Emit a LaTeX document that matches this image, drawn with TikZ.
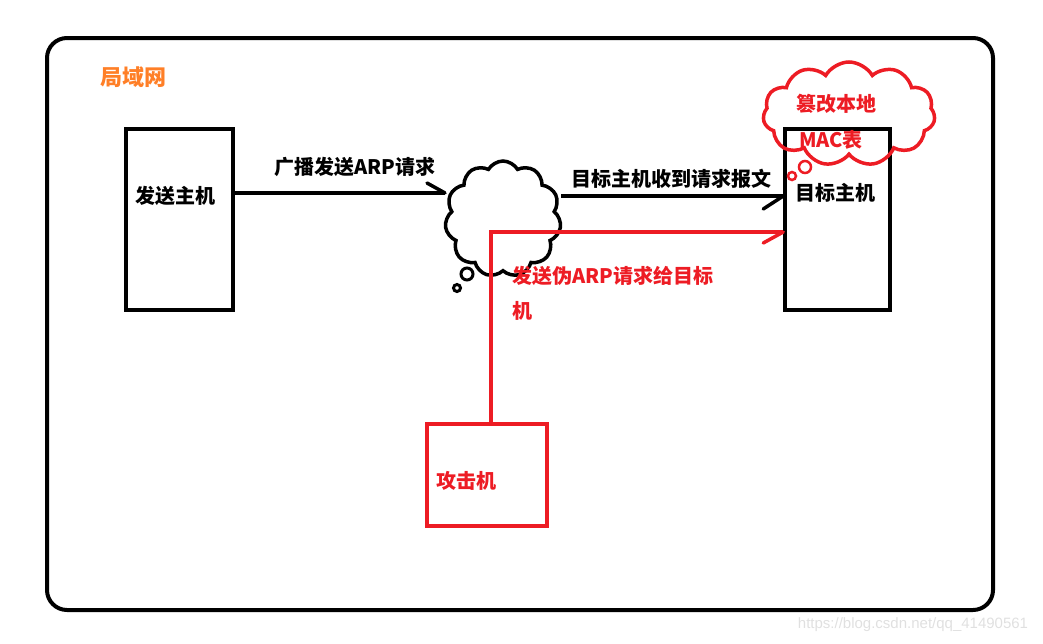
\documentclass[tikz,border=0pt]{standalone}
\usepackage{fontspec}
\setmainfont{Liberation Sans}
\newfontfamily\cjk{Noto Sans CJK SC}
\usetikzlibrary{shapes.symbols,calc}
\definecolor{myred}{HTML}{ED1C24}
\definecolor{myorange}{HTML}{FF7F27}
\tikzset{
  box/.style={draw, line width=3.5pt, minimum width=107pt, minimum height=181pt, inner sep=0pt},
  lab/.style={font=\cjk\bfseries\fontsize{20pt}{24pt}\selectfont, inner sep=0pt},
  conn/.style={line width=3.5pt},
  puff/.style={cloud, draw, line width=3.5pt, cloud puffs=11, cloud puff arc=120, aspect=1, inner sep=0pt},
  bub/.style={circle, draw, line width=3pt, inner sep=0pt},
}
\begin{document}
\begin{tikzpicture}[x=1pt,y=-1pt]
\useasboundingbox (0,0) rectangle (1043,643);
% LAN frame
\draw[line width=4pt, rounded corners=20pt] (47,38) rectangle (993,610);
\node[lab, text=myorange, font=\cjk\bfseries\fontsize{22pt}{26pt}\selectfont] (lan) at (133,77) {局域网};
% sender
\node[box] (snd) at (179.5,219.5) {};
\node[lab] (sndt) at (175,196) {发送主机};
% target
\node[box, minimum width=105pt] (tgt) at (837.5,219.5) {};
\node[lab] (tgtt) at (835,193) {目标主机};
% black cloud
\node[puff, minimum width=116pt, minimum height=116pt] (cl) at (503,219) {};
\node[bub, minimum size=12pt] (b1) at (467,274) {};
\node[bub, minimum size=7pt] (b2) at (457,288) {};
% red cloud
\node[puff, draw=myred, minimum width=172pt, minimum height=104pt, aspect=1.65] (rc) at (849,114) {};
\node[bub, draw=myred, line width=2.5pt, minimum size=12pt] (r1) at (805,167) {};
\node[bub, draw=myred, line width=2.5pt, minimum size=8pt] (r2) at (792,176) {};
\node[lab, text=myred] (rt1) at (836,104) {篡改本地};
\node[lab, text=myred] (rt2) at (831,140) {MAC表};
% attacker
\node[box, draw=myred, minimum width=120pt, minimum height=102pt] (att) at (487,475) {};
\node[lab, text=myred] (attt) at (466,481) {攻击机};
% connectors
\coordinate (c1) at (445,193);
\draw[conn] (snd.east |- 0,193) -- (c1);
\draw[conn, line cap=round] (c1) -- ++(-18,-10);
\node[lab] (l1) at (355,167) {广播发送ARP请求};
\coordinate (c2) at (561,196);
\draw[conn] (c2) -- (tgt.west |- 0,196);
\draw[conn, line cap=round] (tgt.west |- 0,196) -- ++(-20,13);
\node[lab] (l2) at (671,179) {目标主机收到请求报文};
% red path
\draw[conn, myred] (att.north -| 491,0) -- (491,232) -- (tgt.west |- 0,232);
\draw[conn, myred, line cap=round] (tgt.west |- 0,232) -- ++(-20,11);
\node[lab, text=myred, anchor=west] (l3) at (512,276) {发送伪ARP请求给目标};
\node[lab, text=myred, anchor=west] (l3b) at (512,311) {机};
% watermark
\node[font=\fontsize{15pt}{18pt}\selectfont, text=black!12, inner sep=0pt] (wm) at (913,625) {https://blog.csdn.net/qq\_41490561};
\end{tikzpicture}
\end{document}
